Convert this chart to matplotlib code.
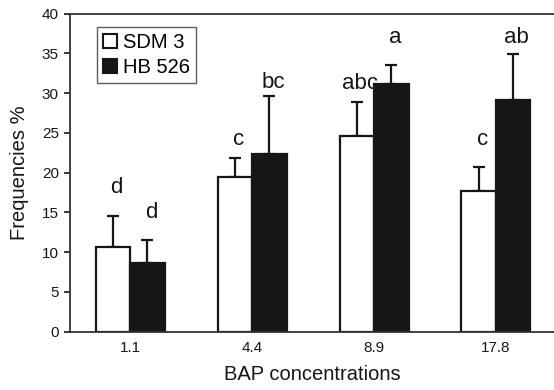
import matplotlib
matplotlib.use("Agg")
import matplotlib.pyplot as plt
import numpy as np
from matplotlib.patches import Patch

plt.rcParams["font.family"] = ["Liberation Sans", "DejaVu Sans"]

# data
concentrations = ["1.1", "4.4", "8.9", "17.8"]
sdm3_mean = [10.7, 19.4, 24.6, 17.7]
sdm3_err = [3.85, 2.4, 4.25, 3.05]
hb526_mean = [8.7, 22.4, 31.15, 29.1]
hb526_err = [2.8, 7.3, 2.35, 5.8]
sdm3_letters = ["d", "c", "abc", "c"]
hb526_letters = ["d", "bc", "a", "ab"]
# baseline heights of the significance letters (data units)
sdm3_letter_y = [17.4, 23.5, 30.5, 23.5]
hb526_letter_y = [14.3, 30.6, 36.3, 36.3]

x = np.arange(len(concentrations))
w = 0.283
dark = "#161616"

fig = plt.figure(figsize=(5.54, 3.90), dpi=100)
ax = fig.add_axes([0.1264, 0.1495, 0.8736, 0.8156])

ax.bar(x - w / 2, sdm3_mean, w, color="white", edgecolor=dark, linewidth=1.6, zorder=2)
ax.bar(x + w / 2, hb526_mean, w, color=dark, edgecolor=dark, linewidth=1.6, zorder=2)
ekw = dict(fmt="none", ecolor=dark, elinewidth=1.6, capsize=4, capthick=1.6, zorder=1)
ax.errorbar(x - w / 2, sdm3_mean, yerr=[np.zeros(4), sdm3_err], **ekw)
ax.errorbar(x + w / 2, hb526_mean, yerr=[np.zeros(4), hb526_err], **ekw)

for i in range(len(x)):
    ax.text(x[i] - w / 2 + 0.03, sdm3_letter_y[i], sdm3_letters[i], ha="center", va="baseline",
            fontsize=16, color=dark)
    ax.text(x[i] + w / 2 + 0.03, hb526_letter_y[i], hb526_letters[i], ha="center", va="baseline",
            fontsize=16, color=dark)

ax.set_xlim(-0.493, 3.476)
ax.set_ylim(0, 40)
ax.set_yticks(np.arange(0, 41, 5))
ax.set_xticks(x)
ax.set_xticklabels(concentrations)
ax.tick_params(axis="x", length=0, pad=7, labelsize=11, colors=dark)
ax.tick_params(axis="y", length=4, width=1.2, direction="out", pad=4, labelsize=11, colors=dark)
for s in ["left", "top", "bottom"]:
    ax.spines[s].set_linewidth(1.3)
    ax.spines[s].set_color("#333333")
ax.spines["right"].set_visible(False)

ax.set_xlabel("BAP concentrations", fontsize=14.5, color=dark, labelpad=7)
ax.set_ylabel("Frequencies %", fontsize=14.5, color=dark, labelpad=9)

handles = [Patch(facecolor="white", edgecolor=dark, linewidth=1.5, label="SDM 3"),
           Patch(facecolor=dark, edgecolor=dark, linewidth=1.5, label="HB 526")]
leg = ax.legend(handles=handles, loc="upper left", bbox_to_anchor=(0.056, 0.958),
                fontsize=14.5, frameon=True, fancybox=False, handlelength=0.7,
                handleheight=0.7, handletextpad=0.3, borderpad=0.3, labelspacing=0.3,
                borderaxespad=0)
leg.get_frame().set_edgecolor("#333333")
leg.get_frame().set_linewidth(1.0)

fig.savefig("out.png", dpi=100)
